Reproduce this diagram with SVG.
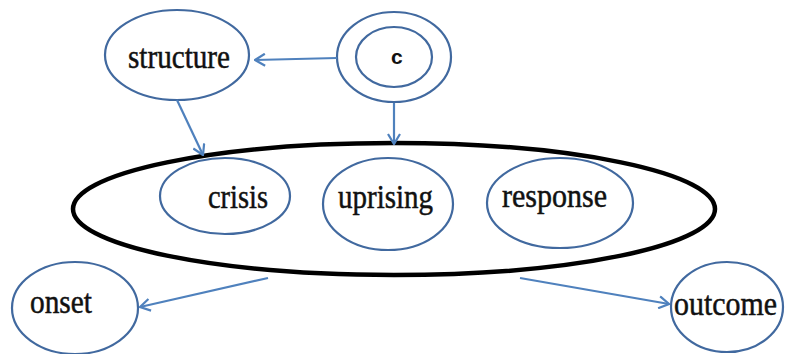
<svg xmlns="http://www.w3.org/2000/svg" width="785" height="354" viewBox="0 0 785 354">
<defs>
<style>
.n{fill:none;stroke:#41699f;stroke-width:2.2}
.big{fill:none;stroke:#000;stroke-width:4.5}
.e{stroke:#4f81bd;stroke-width:2.2;fill:none}
.t{font-family:"Liberation Serif","Times New Roman",serif;font-size:34px;fill:#111;stroke:#111;stroke-width:0.5}
</style>
<marker id="a" viewBox="0 0 12 14" refX="11" refY="7" markerWidth="12" markerHeight="14" markerUnits="userSpaceOnUse" orient="auto">
<path d="M1,1 L11,7 L1,13" fill="none" stroke="#4f81bd" stroke-width="2.2"/>
</marker>
</defs>
<rect width="785" height="354" fill="#fff"/>
<g id="big"><ellipse class="big" cx="394" cy="209" rx="321" ry="66"/></g>
<g id="structure"><ellipse class="n" cx="177" cy="55" rx="72" ry="45"/><text class="t" x="128" y="68" textLength="102" lengthAdjust="spacingAndGlyphs">structure</text></g>
<g id="c"><ellipse class="n" cx="394" cy="57" rx="57" ry="45"/><ellipse class="n" cx="394" cy="57" rx="38" ry="30"/><text x="391" y="64" font-family="Liberation Sans, Arial, sans-serif" font-weight="bold" font-size="21" fill="#111">c</text></g>
<g id="crisis"><ellipse class="n" cx="225" cy="196" rx="65" ry="38"/><text class="t" x="208" y="208" textLength="60" lengthAdjust="spacingAndGlyphs">crisis</text></g>
<g id="uprising"><ellipse class="n" cx="388" cy="204" rx="65" ry="46"/><text class="t" x="338" y="208" textLength="95" lengthAdjust="spacingAndGlyphs">uprising</text></g>
<g id="response"><ellipse class="n" cx="560" cy="203" rx="73" ry="45"/><text class="t" x="502" y="207" textLength="105" lengthAdjust="spacingAndGlyphs">response</text></g>
<g id="onset"><ellipse class="n" cx="75" cy="308" rx="63" ry="46"/><text class="t" x="30" y="313" textLength="62" lengthAdjust="spacingAndGlyphs">onset</text></g>
<g id="outcome"><ellipse class="n" cx="727" cy="307" rx="56" ry="45"/><text class="t" x="674" y="315" textLength="103" lengthAdjust="spacingAndGlyphs">outcome</text></g>
<g id="edges">
<line class="e" x1="337" y1="58" x2="255" y2="60" marker-end="url(#a)"/>
<line class="e" x1="177" y1="100" x2="203" y2="155" marker-end="url(#a)"/>
<line class="e" x1="394" y1="103" x2="394" y2="144" marker-end="url(#a)"/>
<line class="e" x1="268" y1="278" x2="140" y2="307" marker-end="url(#a)"/>
<line class="e" x1="520" y1="278" x2="669" y2="304" marker-end="url(#a)"/>
</g>
</svg>
